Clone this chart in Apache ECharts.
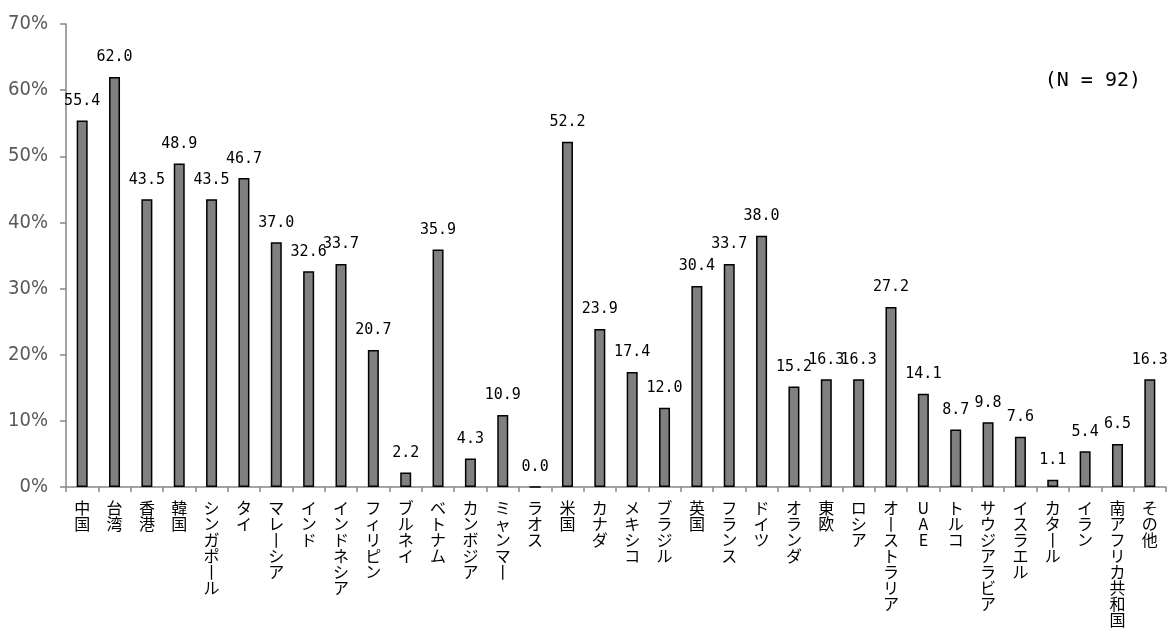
<!DOCTYPE html>
<html>
<head>
<meta charset="utf-8">
<script src="https://cdn.jsdelivr.net/npm/echarts@6/dist/echarts.min.js"></script>
<style>
html,body{margin:0;padding:0;background:#fff;}
#chart{width:1170px;height:644px;}
</style>
</head>
<body>
<div id="chart"></div>
<script>
const categories = ['中国','台湾','香港','韓国','シンガポール','タイ','マレーシア','インド','インドネシア','フィリピン','ブルネイ','ベトナム','カンボジア','ミャンマー','ラオス','米国','カナダ','メキシコ','ブラジル','英国','フランス','ドイツ','オランダ','東欧','ロシア','オーストラリア','UAE','トルコ','サウジアラビア','イスラエル','カタール','イラン','南アフリカ共和国','その他'];
const values = [55.4,62.0,43.5,48.9,43.5,46.7,37.0,32.6,33.7,20.7,2.2,35.9,4.3,10.9,0.0,52.2,23.9,17.4,12.0,30.4,33.7,38.0,15.2,16.3,16.3,27.2,14.1,8.7,9.8,7.6,1.1,5.4,6.5,16.3];
const yTicks = [0,10,20,30,40,50,60,70];
const noteText = '(N = 92)';

function verticalize(s){
  if (/^[A-Za-z]+$/.test(s)) return s.split('').join('\n');
  return s.split('').map(c => c === '\u30FC' ? '\u4E28' : c).join('\n');
}

const chart = echarts.init(document.getElementById('chart'));
chart.setOption({
  animation:false,
  backgroundColor:'#ffffff',
  title:{
    text: noteText,
    right: 24, top: 66,
    textStyle:{fontFamily:'DejaVu Sans Mono', fontSize:20, fontWeight:'normal', color:'#000'}
  },
  grid:{left:66, right:4, top:24, bottom:157, containLabel:false},
  xAxis:{
    type:'category',
    data: categories,
    axisLine:{lineStyle:{color:'#868686', width:1.5}},
    axisTick:{show:true, length:5, lineStyle:{color:'#868686', width:1.5}},
    axisLabel:{
      interval:0, margin:13,
      fontFamily:'Noto Sans CJK JP', fontSize:16, lineHeight:16, color:'#000',
      verticalAlign:'top',
      formatter: v => verticalize(v)
    }
  },
  yAxis:{
    type:'value',
    min: yTicks[0], max: yTicks[yTicks.length-1], interval:10,
    splitLine:{show:false},
    axisLine:{show:true, lineStyle:{color:'#868686', width:1.5}},
    axisTick:{show:true, length:6, lineStyle:{color:'#868686', width:1.5}},
    axisLabel:{
      margin:18,
      fontFamily:'DejaVu Sans Condensed, Liberation Sans Narrow, Liberation Sans, sans-serif', fontSize:20, color:'#595959',
      formatter:'{value}%'
    }
  },
  series:[{
    type:'bar',
    data: values,
    barWidth:11,
    itemStyle:{color:'#808080', borderColor:'#000', borderWidth:1.5},
    label:{
      show:true, position:'top', distance:12,
      fontFamily:'DejaVu Sans Mono', fontSize:15, color:'#000',
      formatter: p => p.value.toFixed(1)
    }
  }]
});
</script>
</body>
</html>
